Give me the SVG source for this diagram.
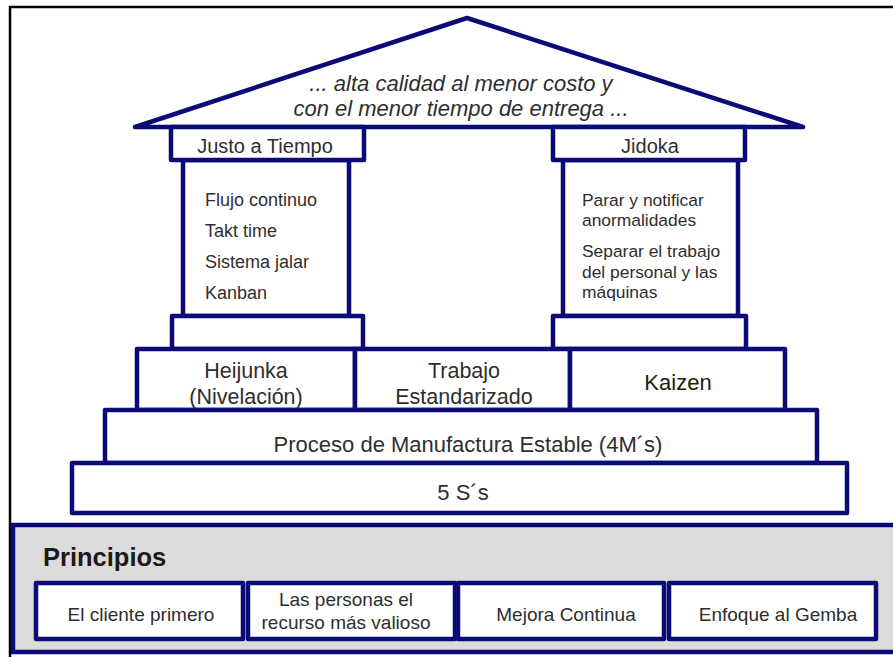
<svg xmlns="http://www.w3.org/2000/svg" width="893" height="657" viewBox="0 0 893 657">
  <style>
    .box { fill: #ffffff; stroke: #0b0b78; stroke-width: 4.5; stroke-linejoin: round; }
    .roof { fill: #ffffff; stroke: #0b0b78; stroke-width: 4.5; stroke-linejoin: round; }
    .panel { fill: #dcdcdc; stroke: #0b0b78; stroke-width: 4.5; }
    text { font-family: "Liberation Sans", Arial, sans-serif; fill: #2e2e2e; }
    .c { text-anchor: middle; }
    .roof-t { font-size: 22px; font-style: italic; }
    .head { font-size: 20px; }
    .list-l { font-size: 18px; }
    .list-r { font-size: 17.4px; }
    .mid { font-size: 21.5px; }
    .base { font-size: 22px; }
    .prin { font-size: 19px; }
  </style>

  <!-- frame -->
  <rect x="10" y="7" width="900" height="660" fill="#ffffff" stroke="#000000" stroke-width="2.5"/>

  <!-- roof -->
  <g id="roof">
    <polygon class="roof" points="135,127 467,18 803,127"/>
    <text class="roof-t c" x="461" y="91">... alta calidad al menor costo y</text>
    <text class="roof-t c" x="461" y="116">con el menor tiempo de entrega ...</text>
  </g>

  <!-- left pillar: Justo a Tiempo -->
  <g id="pillar-jit">
    <rect class="box" x="183" y="160" width="166" height="156"/>
    <rect class="box" x="171" y="127" width="193" height="33"/>
    <rect class="box" x="172" y="316" width="191" height="33"/>
    <text class="head c" x="265" y="153">Justo a Tiempo</text>
    <text class="list-l" x="205" y="206">Flujo  continuo</text>
    <text class="list-l" x="205" y="237">Takt time</text>
    <text class="list-l" x="205" y="268">Sistema jalar</text>
    <text class="list-l" x="205" y="299">Kanban</text>
  </g>

  <!-- right pillar: Jidoka -->
  <g id="pillar-jidoka">
    <rect class="box" x="563" y="160" width="175" height="156"/>
    <rect class="box" x="553" y="127" width="192" height="33"/>
    <rect class="box" x="553" y="316" width="193" height="33"/>
    <text class="head c" x="650" y="153">Jidoka</text>
    <text class="list-r" x="582" y="206">Parar y notificar</text>
    <text class="list-r" x="582" y="226">anormalidades</text>
    <text class="list-r" x="582" y="257">Separar el trabajo</text>
    <text class="list-r" x="582" y="278">del personal y las</text>
    <text class="list-r" x="582" y="298">máquinas</text>
  </g>

  <!-- middle row -->
  <g id="heijunka">
    <rect class="box" x="137" y="349" width="218" height="61"/>
    <text class="mid c" x="246" y="378">Heijunka</text>
    <text class="mid c" x="246" y="404">(Nivelación)</text>
  </g>
  <g id="trabajo-estandarizado">
    <rect class="box" x="355" y="349" width="215" height="61"/>
    <text class="mid c" x="464" y="378">Trabajo</text>
    <text class="mid c" x="464" y="404">Estandarizado</text>
  </g>
  <g id="kaizen">
    <rect class="box" x="570" y="349" width="215" height="61"/>
    <text class="c" x="678" y="390" style="font-size:22px;fill:#1e1e08">Kaizen</text>
  </g>

  <!-- foundation -->
  <g id="proceso">
    <rect class="box" x="105" y="410" width="712" height="53"/>
    <text class="base c" x="468" y="452">Proceso de Manufactura Estable (4M´s)</text>
  </g>
  <g id="cinco-s">
    <rect class="box" x="72" y="463" width="775" height="50"/>
    <text class="base c" x="463" y="500">5 S´s</text>
  </g>

  <!-- principles -->
  <g id="principios">
    <rect class="panel" x="13" y="525" width="900" height="127"/>
    <text x="43" y="566" style="font-size:25.5px;font-weight:bold;fill:#1a1a1a">Principios</text>
  </g>
  <g id="p-cliente">
    <rect class="box" x="36" y="583" width="207" height="56"/>
    <text class="prin c" x="141" y="621">El cliente primero</text>
  </g>
  <g id="p-personas">
    <rect class="box" x="248" y="583" width="207" height="56"/>
    <text class="prin c" x="346" y="606">Las personas el</text>
    <text class="prin c" x="346" y="629">recurso más valioso</text>
  </g>
  <g id="p-mejora">
    <rect class="box" x="458" y="583" width="206" height="56"/>
    <text class="prin c" x="566" y="621">Mejora Continua</text>
  </g>
  <g id="p-gemba">
    <rect class="box" x="669" y="583" width="207" height="56"/>
    <text class="prin c" x="778" y="621">Enfoque al Gemba</text>
  </g>

  <g id="connectors"/>
</svg>
